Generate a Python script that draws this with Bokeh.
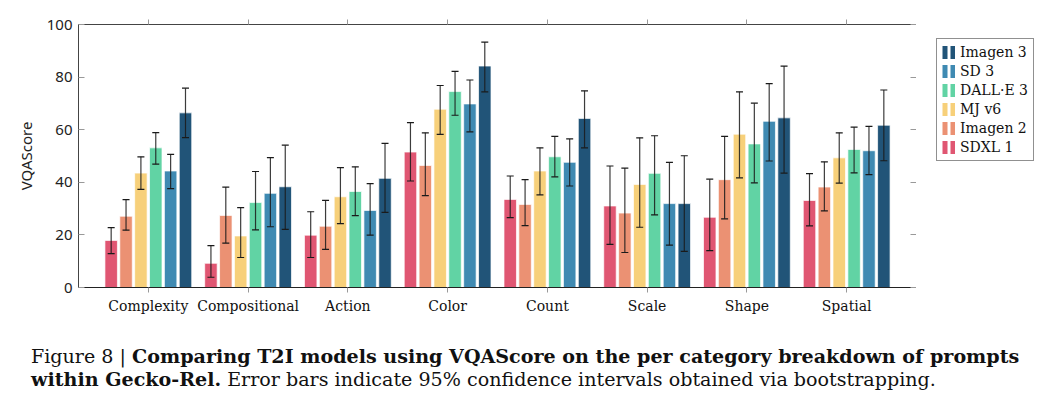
from bokeh.plotting import figure
from bokeh.models import (ColumnDataSource, FactorRange, Range1d, Whisker, TeeHead,
                          LinearAxis, CategoricalAxis, Legend, LegendItem, FixedTicker, Div)
from bokeh.transform import dodge
from bokeh.layouts import column, row
from bokeh.embed import file_html
from bokeh.resources import INLINE

categories = ["Complexity", "Compositional", "Action", "Color", "Count", "Scale", "Shape", "Spatial"]
models = ["SDXL 1", "Imagen 2", "MJ v6", "DALL·E 3", "SD 3", "Imagen 3"]
colors = ["#e05672", "#eb9173", "#f7d07a", "#61d3a4", "#3f8ab2", "#215478"]

# mean VQAScore per category
sdxl1_val = [17.9, 9.2, 19.9, 51.5, 33.5, 31.0, 26.7, 33.1]
imagen2_val = [27.1, 27.4, 23.3, 46.4, 31.6, 28.3, 41.0, 38.2]
mjv6_val = [43.5, 19.6, 34.5, 67.8, 44.3, 39.2, 58.3, 49.3]
dalle3_val = [53.1, 32.3, 36.5, 74.5, 49.7, 43.4, 54.6, 52.5]
sd3_val = [44.3, 35.8, 29.3, 69.8, 47.6, 31.9, 63.2, 52.0]
imagen3_val = [66.4, 38.3, 41.5, 84.2, 64.3, 31.9, 64.5, 61.7]

# 95% CI lower bounds
sdxl1_lo = [12.9, 3.9, 11.4, 40.5, 26.6, 16.4, 14.0, 23.4]
imagen2_lo = [21.8, 16.9, 14.5, 34.9, 23.5, 13.3, 26.1, 29.1]
mjv6_lo = [37.3, 11.4, 24.3, 58.2, 35.2, 22.9, 41.7, 39.7]
dalle3_lo = [46.9, 21.9, 27.3, 65.5, 42.1, 27.6, 39.8, 43.6]
sd3_lo = [37.6, 23.1, 19.9, 59.2, 38.6, 16.1, 48.1, 42.9]
imagen3_lo = [57.0, 22.1, 28.6, 74.4, 53.1, 13.7, 43.5, 48.2]

# 95% CI upper bounds
sdxl1_hi = [22.8, 15.9, 28.8, 62.7, 42.4, 46.2, 41.2, 43.3]
imagen2_hi = [33.4, 38.2, 33.1, 58.8, 41.0, 45.4, 57.5, 47.8]
mjv6_hi = [49.7, 30.4, 45.6, 76.8, 53.1, 56.9, 74.4, 58.8]
dalle3_hi = [58.9, 44.1, 45.9, 82.2, 57.5, 57.7, 70.1, 61.0]
sd3_hi = [50.6, 49.4, 39.5, 78.9, 56.5, 47.6, 77.5, 61.3]
imagen3_hi = [75.8, 54.1, 54.8, 93.3, 74.8, 50.1, 84.2, 75.1]

y_ticks = [0, 20, 40, 60, 80, 100]

vals = [sdxl1_val, imagen2_val, mjv6_val, dalle3_val, sd3_val, imagen3_val]
los = [sdxl1_lo, imagen2_lo, mjv6_lo, dalle3_lo, sd3_lo, imagen3_lo]
his = [sdxl1_hi, imagen2_hi, mjv6_hi, dalle3_hi, sd3_hi, imagen3_hi]

SERIF = "DejaVu Serif"
SANS = "Noto Sans"

p = figure(x_range=FactorRange(*categories, range_padding=0.2, range_padding_units="absolute"),
           y_range=Range1d(0, 100),
           frame_width=838, frame_height=263,
           min_border_left=78, min_border_right=0, min_border_top=24, min_border_bottom=42,
           output_backend="svg", toolbar_location=None, tools="")
p.xgrid.visible = False
p.ygrid.visible = False
p.outline_line_color = None
p.background_fill_color = "white"
p.border_fill_color = "white"

# separate legend panel (figure without axes); its helper glyphs lie outside its range
lf = figure(width=130, height=329, x_range=Range1d(0, 1), y_range=Range1d(0, 100),
            min_border=0, output_backend="svg", toolbar_location=None, tools="")
lf.axis.visible = False
lf.grid.visible = False
lf.outline_line_color = None

step = 0.149
items = []
for i, (m, c) in enumerate(zip(models, colors)):
    src = ColumnDataSource(dict(cat=categories, val=vals[i], lo=los[i], hi=his[i]))
    off = (i - 2.5) * step
    p.vbar(x=dodge("cat", off, range=p.x_range), top="val", width=0.125, source=src,
           fill_color=c, line_color="white", line_alpha=0.7, line_width=1)
    w = Whisker(source=src, base=dodge("cat", off, range=p.x_range), upper="hi", lower="lo",
                level="overlay",
                line_color="#1a1a1a", line_alpha=0.85, line_width=1.2,
                upper_head=TeeHead(size=7, line_color="#1a1a1a", line_width=1.2),
                lower_head=TeeHead(size=7, line_color="#1a1a1a", line_width=1.2))
    p.add_layout(w)
    lsrc = ColumnDataSource(dict(val=vals[i]))
    lr = lf.line(x=-5, y="val", source=lsrc, line_color=c, line_width=13,
                 line_dash="5 3", line_cap="butt")
    items.append(LegendItem(label=m, renderers=[lr]))

# axes styling
xa = p.xaxis[0]
xa.major_label_text_font = SERIF
xa.major_label_text_font_size = "14px"
xa.major_label_text_color = "#111"
xa.major_tick_in = 0
xa.major_tick_out = 5
xa.major_tick_line_color = "#999"
xa.minor_tick_line_color = None
xa.axis_line_color = "#222"
xa.major_label_standoff = 5

ya = p.yaxis[0]
ya.ticker = FixedTicker(ticks=y_ticks)
ya.major_label_text_font = SANS
ya.major_label_text_font_size = "15px"
ya.major_label_text_color = "#222"
ya.major_tick_in = 6
ya.major_tick_out = 0
ya.major_tick_line_color = "#999"
ya.minor_tick_line_color = None
ya.axis_line_color = "#444"
ya.major_label_standoff = 6
ya.axis_label = "VQAScore"
ya.axis_label_text_font = SANS
ya.axis_label_text_font_size = "15px"
ya.axis_label_text_font_style = "normal"
ya.axis_label_text_color = "#222"
ya.axis_label_standoff = 8

top_ax = CategoricalAxis(major_tick_in=0, major_tick_out=5, major_tick_line_color="#999",
                         axis_line_color="#444", major_label_text_color=None,
                         minor_tick_line_color=None)
p.add_layout(top_ax, "above")
right_ax = LinearAxis(ticker=FixedTicker(ticks=y_ticks), major_tick_in=6, major_tick_out=0,
                      major_tick_line_color="#999", axis_line_color="#222",
                      major_label_text_color=None, minor_tick_line_color=None)
p.add_layout(right_ax, "right")

legend = Legend(items=list(reversed(items)), location=(20, 126),
                border_line_color="#222", border_line_width=1,
                label_text_font=SERIF, label_text_font_size="14px", label_text_color="#111",
                glyph_width=13, glyph_height=16, label_height=16, label_standoff=5,
                spacing=3, padding=5, margin=0, background_fill_color="white")
lf.add_layout(legend, "center")

caption = Div(text=("Figure 8 | <b>Comparing T2I models using VQAScore on the per category breakdown of prompts</b><br>"
                    "<b>within Gecko-Rel.</b> Error bars indicate 95% confidence intervals obtained via bootstrapping."),
              width=1030,
              styles={"font-family": "'DejaVu Serif', serif", "font-size": "19.1px", "line-height": "23px",
                      "white-space": "nowrap", "color": "#111", "padding-top": "11px", "padding-left": "26px"})

layout = column(row(p, lf, spacing=0), caption, spacing=0)
open("out.html", "w").write(file_html(layout, INLINE))
